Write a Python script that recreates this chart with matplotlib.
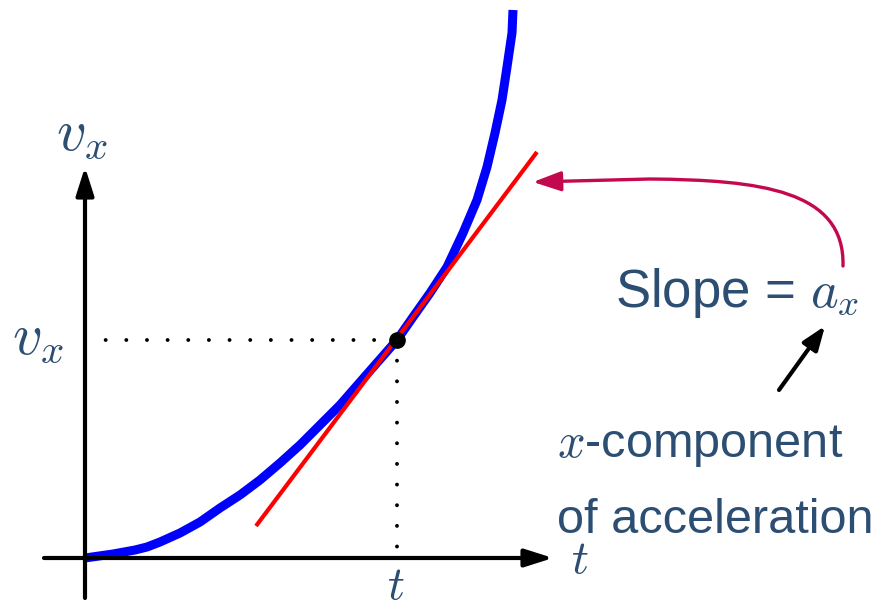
import matplotlib.pyplot as plt
from matplotlib.patches import FancyArrowPatch
from matplotlib.path import Path

plt.rcParams['mathtext.fontset'] = 'cm'
plt.rcParams['font.family'] = ['Liberation Sans', 'DejaVu Sans']

TEXT = '#2b4e72'
MAGENTA = '#c3084d'

# v_x(t), origin where the two axes cross
t_curve = [0, 28, 50, 62, 75, 95, 115, 135, 155, 175, 195, 215, 235, 255, 283, 312,
           328, 345, 362, 378, 392, 402, 410, 417, 422, 427, 428]
v_curve = [0, 4, 8, 11, 16, 25, 36, 50, 63, 78, 95, 113, 133, 153, 185, 218,
           241, 265, 291, 325, 358, 391, 425, 458, 491, 525, 548]

# tangent line and the point where it touches
t_tangent = [171, 452]
v_tangent = [32, 406]
t0, v0 = 312, 218

# axis extents
t_axis = [-41, 468]
v_axis = [-40, 391]

# curved "slope" arrow: tail, bezier controls, end of bend, tip
slope_arrow = [(758, 292), (760, 368), (675, 378), (565, 379), (448, 376)]
# short black arrow under the label
comp_arrow = [(694, 168), (740, 232)]

fig = plt.figure(figsize=(8.78, 6.07), dpi=100)
ax = fig.add_axes([0, 0, 1, 1])
ax.set_xlim(-85, 793)
ax.set_ylim(-49, 558)
ax.axis('off')

# axes with arrow heads
head = '-|>,head_length=0.85,head_width=0.27'
ax.annotate('', xy=(t_axis[1], 0), xytext=(t_axis[0], 0),
            arrowprops=dict(arrowstyle=head, lw=3, color='black',
                            shrinkA=0, shrinkB=0, mutation_scale=20))
ax.annotate('', xy=(0, v_axis[1]), xytext=(0, v_axis[0]),
            arrowprops=dict(arrowstyle=head, lw=3, color='black',
                            shrinkA=0, shrinkB=0, mutation_scale=20))

# dotted guides
ax.plot([0, t0], [v0, v0], color='black', lw=2.8,
        linestyle=(0, (0.01, 5.3)), dash_capstyle='round')
ax.plot([t0, t0], [v0, 0], color='black', lw=2.8,
        linestyle=(0, (0.01, 5.3)), dash_capstyle='round')

ax.plot(t_curve, v_curve, color='#0000ff', lw=6.5, solid_capstyle='butt',
        solid_joinstyle='round')
ax.plot(t_tangent, v_tangent, color='#ff0000', lw=3, solid_capstyle='butt')
ax.plot([t0], [v0], 'o', color='black', markersize=11)

# labels
ax.text(-3, 423, r'$v_x$', fontsize=42, color=TEXT, ha='center', va='center')
ax.text(-47, 219, r'$v_x$', fontsize=42, color=TEXT, ha='center', va='center')
ax.text(311, -29, r'$t$', fontsize=34, color=TEXT, ha='center', va='center')
ax.text(495, -3, r'$t$', fontsize=34, color=TEXT, ha='center', va='center')

ax.text(530, 251, r'Slope = $a_x$', fontsize=38, color=TEXT, ha='left', va='baseline')
ax.text(472, 101, r'$x$-component', fontsize=35, color=TEXT, ha='left', va='baseline')
ax.text(472, 25, 'of acceleration', fontsize=35, color=TEXT, ha='left', va='baseline')

# arrows
path = Path(slope_arrow, [Path.MOVETO, Path.CURVE4, Path.CURVE4, Path.CURVE4, Path.LINETO])
ax.add_patch(FancyArrowPatch(path=path, arrowstyle='-|>,head_length=0.85,head_width=0.3',
                             mutation_scale=20, lw=2.4, color=MAGENTA))
ax.annotate('', xy=comp_arrow[1], xytext=comp_arrow[0],
            arrowprops=dict(arrowstyle='-|>,head_length=0.8,head_width=0.3',
                            lw=3, color='black', shrinkA=0, shrinkB=0,
                            mutation_scale=18))

fig.savefig('out.png', dpi=100)
